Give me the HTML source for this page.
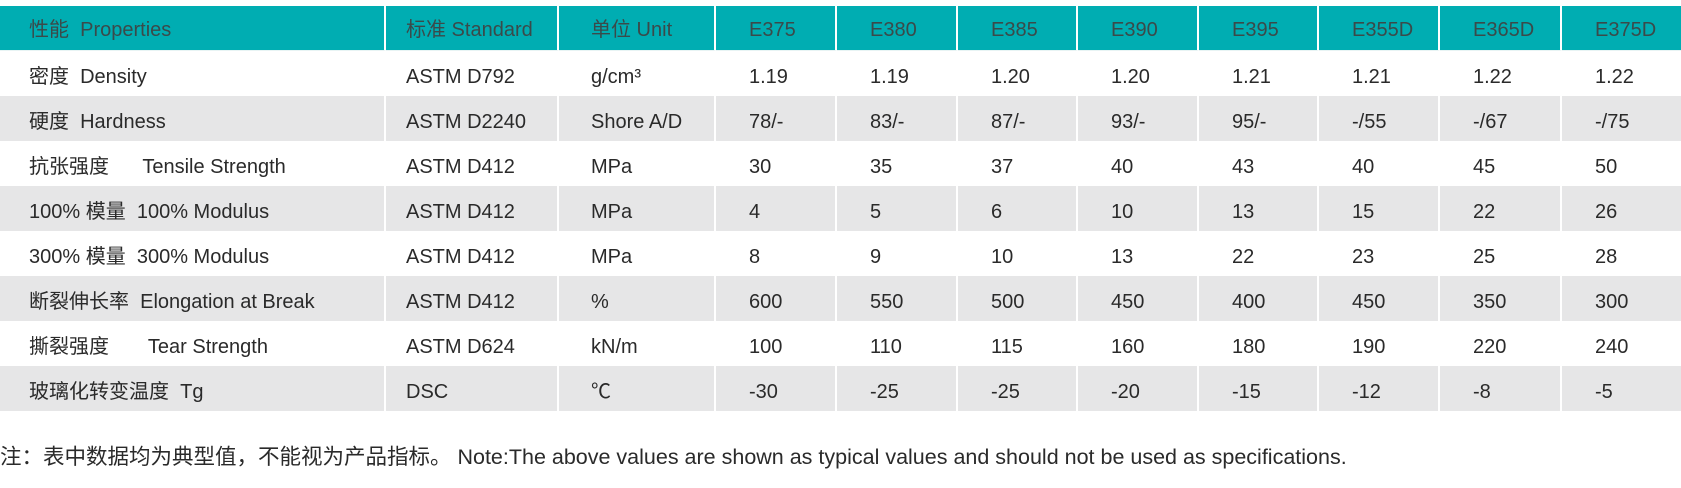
<!DOCTYPE html>
<html><head><meta charset="utf-8"><style>
body{margin:0;width:1681px;height:488px;background:#fff;position:relative;overflow:hidden;font-family:"Liberation Sans","Noto Sans CJK SC",sans-serif;}
table{position:absolute;left:0;top:6px;border-collapse:separate;border-spacing:0;table-layout:fixed;width:1681px}
td{height:45px;padding:6px 0 0 0;box-sizing:border-box;font-size:20px;line-height:22px;color:#2a2a2a;white-space:nowrap;vertical-align:middle;border-right:2px solid #fff;overflow:hidden}
td:last-child{border-right:none}
tr.h td{background:#00adb2;color:#3a4a4a;height:45px;border-bottom:1px solid #e8f4f4;padding-top:3px}
tr.g td{background:#e6e6e7}
td:nth-child(1){padding-left:29px}
td:nth-child(2){padding-left:20px}
td:nth-child(3){padding-left:32px}
td:nth-child(n+4){padding-left:33px}
.n{position:absolute;left:0;top:445px;font-size:21.5px;line-height:24px;color:#2a2a2a;white-space:nowrap}
</style></head><body>
<table>
<colgroup><col style="width:386px"><col style="width:173px"><col style="width:157px"><col style="width:121px"><col style="width:121px"><col style="width:120px"><col style="width:121px"><col style="width:120px"><col style="width:121px"><col style="width:122px"><col style="width:119px"></colgroup>
<tr class="h"><td>性能&nbsp;&nbsp;Properties</td><td>标准 Standard</td><td>单位 Unit</td><td>E375</td><td>E380</td><td>E385</td><td>E390</td><td>E395</td><td>E355D</td><td>E365D</td><td>E375D</td></tr>
<tr><td>密度&nbsp;&nbsp;Density</td><td>ASTM D792</td><td>g/cm³</td><td>1.19</td><td>1.19</td><td>1.20</td><td>1.20</td><td>1.21</td><td>1.21</td><td>1.22</td><td>1.22</td></tr>
<tr class="g"><td>硬度&nbsp;&nbsp;Hardness</td><td>ASTM D2240</td><td>Shore A/D</td><td>78/-</td><td>83/-</td><td>87/-</td><td>93/-</td><td>95/-</td><td>-/55</td><td>-/67</td><td>-/75</td></tr>
<tr><td>抗张强度&nbsp;&nbsp;&nbsp;&nbsp;&nbsp;&nbsp;Tensile Strength</td><td>ASTM D412</td><td>MPa</td><td>30</td><td>35</td><td>37</td><td>40</td><td>43</td><td>40</td><td>45</td><td>50</td></tr>
<tr class="g"><td>100% 模量&nbsp;&nbsp;100% Modulus</td><td>ASTM D412</td><td>MPa</td><td>4</td><td>5</td><td>6</td><td>10</td><td>13</td><td>15</td><td>22</td><td>26</td></tr>
<tr><td>300% 模量&nbsp;&nbsp;300% Modulus</td><td>ASTM D412</td><td>MPa</td><td>8</td><td>9</td><td>10</td><td>13</td><td>22</td><td>23</td><td>25</td><td>28</td></tr>
<tr class="g"><td>断裂伸长率&nbsp;&nbsp;Elongation at Break</td><td>ASTM D412</td><td>%</td><td>600</td><td>550</td><td>500</td><td>450</td><td>400</td><td>450</td><td>350</td><td>300</td></tr>
<tr><td>撕裂强度&nbsp;&nbsp;&nbsp;&nbsp;&nbsp;&nbsp;&nbsp;Tear Strength</td><td>ASTM D624</td><td>kN/m</td><td>100</td><td>110</td><td>115</td><td>160</td><td>180</td><td>190</td><td>220</td><td>240</td></tr>
<tr class="g"><td>玻璃化转变温度&nbsp;&nbsp;Tg</td><td>DSC</td><td>℃</td><td>-30</td><td>-25</td><td>-25</td><td>-20</td><td>-15</td><td>-12</td><td>-8</td><td>-5</td></tr>
</table>
<div class="n">注：表中数据均为典型值，不能视为产品指标。 Note:The above values are shown as typical values and should not be used as specifications.</div>
</body></html>
